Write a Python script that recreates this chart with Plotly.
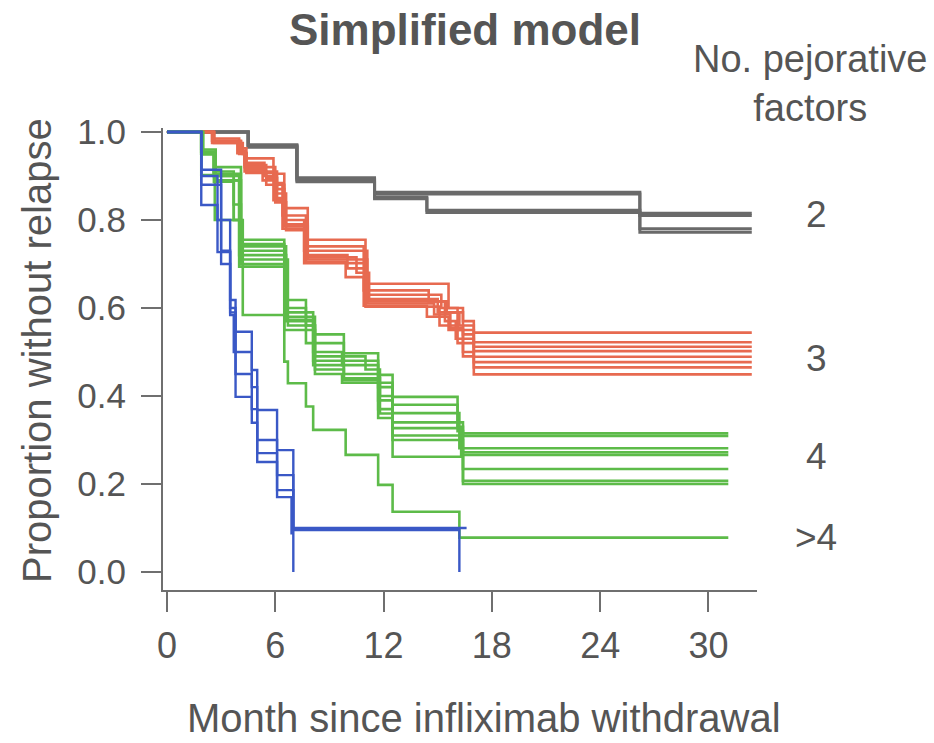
import plotly.graph_objects as go

# ---------------- data ----------------
END_LONG = 32.4    # end of follow-up for gray/red curves (months)
END_GREEN = 31.1   # end of follow-up for green curves

# 2 pejorative factors (gray)
gray_times = [
    [0, 4.5, 7.2, 11.5, 26.2, END_LONG],
    [0, 4.5, 7.2, 11.5, 26.2, END_LONG],
    [0, 4.5, 7.2, 11.5, 14.4, 26.2, END_LONG],
    [0, 4.5, 7.2, 11.5, 14.4, 26.2, END_LONG],
]
gray_surv = [
    [1.0, 0.971, 0.896, 0.863, 0.815, 0.815],
    [1.0, 0.967, 0.890, 0.859, 0.810, 0.810],
    [1.0, 0.969, 0.893, 0.852, 0.822, 0.780, 0.780],
    [1.0, 0.965, 0.887, 0.848, 0.817, 0.772, 0.772],
]

# 3 pejorative factors (red)
red_times = [
    [0, 2.6, 4.0, 4.4, 5.9, 6.5, 7.8, 11.0, 15.6, 16.4, 17.0, END_LONG],
    [0, 2.6, 4.1, 4.3, 5.4, 6.0, 6.4, 7.7, 10.9, 14.5, 15.5, 16.2, 17.0, END_LONG],
    [0, 2.5, 4.0, 4.3, 5.5, 6.1, 6.5, 7.6, 11.1, 15.2, 16.1, 17.0, END_LONG],
    [0, 2.6, 3.9, 4.4, 5.3, 6.0, 6.6, 7.7, 10.0, 11.0, 15.0, 16.4, 17.0, END_LONG],
    [0, 2.6, 4.2, 4.3, 6.1, 6.5, 7.8, 10.5, 11.2, 15.4, 16.0, 17.0, END_LONG],
    [0, 2.5, 4.0, 4.4, 5.9, 6.4, 7.7, 9.9, 10.9, 14.4, 15.6, 16.4, 17.0, END_LONG],
    [0, 2.6, 4.1, 4.3, 6.0, 6.6, 7.6, 11.0, 15.1, 16.1, 17.0, END_LONG],
    [0, 2.6, 4.0, 4.4, 5.5, 6.5, 7.8, 11.1, 14.8, 15.7, 16.4, 17.0, END_LONG],
]
red_surv = [
    [1.0, 0.985, 0.963, 0.940, 0.905, 0.827, 0.755, 0.655, 0.600, 0.570, 0.544, 0.544],
    [1.0, 0.980, 0.958, 0.930, 0.900, 0.884, 0.810, 0.740, 0.640, 0.615, 0.590, 0.560, 0.522, 0.522],
    [1.0, 0.980, 0.955, 0.925, 0.895, 0.870, 0.800, 0.730, 0.630, 0.600, 0.550, 0.512, 0.512],
    [1.0, 0.978, 0.952, 0.915, 0.890, 0.860, 0.790, 0.720, 0.690, 0.620, 0.590, 0.540, 0.502, 0.502],
    [1.0, 0.975, 0.950, 0.910, 0.850, 0.785, 0.715, 0.680, 0.615, 0.570, 0.530, 0.489, 0.489],
    [1.0, 0.975, 0.950, 0.907, 0.845, 0.780, 0.705, 0.670, 0.605, 0.580, 0.550, 0.500, 0.477, 0.477],
    [1.0, 0.978, 0.955, 0.920, 0.840, 0.777, 0.702, 0.603, 0.560, 0.520, 0.465, 0.465],
    [1.0, 0.976, 0.952, 0.910, 0.880, 0.790, 0.710, 0.610, 0.585, 0.555, 0.490, 0.449, 0.449],
]

# 4 pejorative factors (green, main bundle) and >4 (green, single curve)
green_times = [
    [0, 1.9, 2.7, 4.1, 6.5, 7.7, 8.2, 9.8, 11.7, 12.5, 16.1, 16.4, END_GREEN],
    [0, 1.9, 2.6, 3.7, 4.1, 6.5, 7.7, 8.2, 9.8, 11.7, 12.5, 16.1, 16.4, END_GREEN],
    [0, 2.0, 2.7, 4.1, 6.6, 8.1, 9.7, 11.7, 12.5, 16.2, END_GREEN],
    [0, 1.9, 2.6, 3.7, 4.1, 6.5, 7.7, 8.2, 11.0, 11.8, 12.5, 16.4, END_GREEN],
    [0, 1.9, 2.7, 4.0, 6.6, 8.1, 9.8, 11.7, 12.5, 16.3, END_GREEN],
    [0, 1.9, 2.6, 3.7, 4.1, 6.7, 8.2, 9.8, 11.8, 12.5, 16.4, END_GREEN],
    [0, 2.0, 2.7, 4.1, 6.5, 7.7, 8.2, 9.7, 11.7, 12.5, 16.4, END_GREEN],
    [0, 1.9, 2.6, 4.0, 6.6, 8.1, 9.8, 11.7, 12.5, 16.4, END_GREEN],
    [0, 1.9, 2.65, 4.2, 6.5, 6.7, 7.7, 8.1, 9.9, 11.7, 12.5, 16.2, END_GREEN],
]
green_surv = [
    [1.0, 0.960, 0.920, 0.755, 0.618, 0.580, 0.540, 0.497, 0.448, 0.398, 0.330, 0.315, 0.315],
    [1.0, 0.955, 0.910, 0.800, 0.745, 0.600, 0.560, 0.520, 0.480, 0.430, 0.380, 0.320, 0.309, 0.309],
    [1.0, 0.950, 0.905, 0.740, 0.590, 0.500, 0.470, 0.420, 0.361, 0.281, 0.281],
    [1.0, 0.950, 0.900, 0.835, 0.730, 0.580, 0.550, 0.490, 0.460, 0.400, 0.340, 0.272, 0.272],
    [1.0, 0.955, 0.890, 0.720, 0.570, 0.480, 0.450, 0.390, 0.327, 0.266, 0.266],
    [1.0, 0.950, 0.887, 0.800, 0.710, 0.560, 0.460, 0.440, 0.360, 0.310, 0.234, 0.234],
    [1.0, 0.950, 0.890, 0.700, 0.550, 0.520, 0.450, 0.430, 0.350, 0.262, 0.207, 0.207],
    [1.0, 0.950, 0.900, 0.694, 0.573, 0.470, 0.436, 0.370, 0.300, 0.200, 0.200],
    [1.0, 0.902, 0.800, 0.584, 0.478, 0.429, 0.376, 0.323, 0.266, 0.198, 0.137, 0.078, 0.078],
]

# >4 pejorative factors (blue)
blue_times = [
    [0, 1.9, 3.0, 3.5, 3.8, 4.7, 5.0, 6.1, 7.0, 16.6],
    [0, 1.9, 2.8, 3.5, 3.7, 4.7, 5.0, 6.1, 7.0, 16.2, 16.2],
    [0, 1.9, 2.8, 3.5, 3.8, 4.7, 5.0, 6.1, 7.0, 7.0],
    [0, 1.9, 3.0, 3.5, 3.8, 4.7, 5.0, 6.1, 6.9, 7.0],
]
blue_surv = [
    [1.0, 0.914, 0.730, 0.618, 0.546, 0.459, 0.368, 0.277, 0.100, 0.100],
    [1.0, 0.900, 0.800, 0.584, 0.500, 0.420, 0.300, 0.220, 0.095, 0.0, 0.0],
    [1.0, 0.834, 0.727, 0.600, 0.398, 0.339, 0.250, 0.186, 0.0, 0.0],
    [1.0, 0.880, 0.700, 0.590, 0.450, 0.370, 0.270, 0.170, 0.088, 0.088],
]

group_labels = ["2", "3", "4", ">4"]
group_label_y = [0.813, 0.485, 0.262, 0.078]
x_ticks = [0, 6, 12, 18, 24, 30]
y_ticks = [0.0, 0.2, 0.4, 0.6, 0.8, 1.0]

# ---------------- styles ----------------
GRAY = "#6a6a6a"
RED = "#e76a50"
GREEN = "#5dbb49"
BLUE = "#3a58c6"
TEXT = "#555555"
AXIS = "#6f6f6f"
FONT = "Liberation Sans, Arial, Helvetica, sans-serif"

fig = go.Figure()

def add_group(times_list, surv_list, color, width=2.6):
    for t, s in zip(times_list, surv_list):
        fig.add_trace(go.Scatter(
            x=t, y=s, mode="lines", line=dict(color=color, width=width, shape="hv"),
            showlegend=False, hoverinfo="skip"))

add_group(gray_times, gray_surv, GRAY, 3.0)
add_group(red_times, red_surv, RED, 2.6)
add_group(green_times, green_surv, GREEN, 2.6)
add_group(blue_times, blue_surv, BLUE, 2.4)

W, H = 934, 743
L, R, T, B = 163, 177, 128, 153

fig.update_layout(
    width=W, height=H,
    margin=dict(l=L, r=R, t=T, b=B, pad=0),
    paper_bgcolor="white", plot_bgcolor="white",
    font=dict(family=FONT, color=TEXT, size=34),
    xaxis=dict(range=[-0.22, 32.69], tickvals=x_ticks, ticktext=[str(v) for v in x_ticks],
               showgrid=False, zeroline=False, showline=True, linecolor=AXIS, linewidth=2,
               ticks="outside", ticklen=20, tickwidth=2, tickcolor=AXIS,
               tickfont=dict(size=36, color=TEXT), ticklabelstandoff=3),
    yaxis=dict(range=[-0.041, 1.009], tickvals=y_ticks, ticktext=[f"{v:.1f}" for v in y_ticks],
               showgrid=False, zeroline=False, showline=True, linecolor=AXIS, linewidth=2,
               ticks="outside", ticklen=20, tickwidth=2, tickcolor=AXIS,
               tickfont=dict(size=35, color=TEXT), ticklabelstandoff=8),
)

annotations = [
    dict(text="<b>Simplified model</b>", xref="paper", yref="paper", x=(465 - L) / (W - L - R),
         y=1 + (T - 30) / (H - T - B), xanchor="center", yanchor="middle", showarrow=False,
         font=dict(size=44, color=TEXT)),
    dict(text="No. pejorative<br>factors", xref="paper", yref="paper", x=(810 - L) / (W - L - R),
         y=1 + (T - 83) / (H - T - B), xanchor="center", yanchor="middle", showarrow=False,
         font=dict(size=38, color=TEXT), align="center"),
    dict(text="Month since infliximab withdrawal", xref="paper", yref="paper",
         x=(484 - L) / (W - L - R), y=-(718 - (H - B)) / (H - T - B),
         xanchor="center", yanchor="middle", showarrow=False, font=dict(size=40, color=TEXT)),
    dict(text="Proportion without relapse", xref="paper", yref="paper",
         x=-(L - 37) / (W - L - R), y=(H - B - 351) / (H - T - B), textangle=-90,
         xanchor="center", yanchor="middle", showarrow=False, font=dict(size=40, color=TEXT)),
]
for lab, yv in zip(group_labels, group_label_y):
    annotations.append(dict(text=lab, xref="paper", yref="y", x=(816 - L) / (W - L - R), y=yv,
                            xanchor="center", yanchor="middle", showarrow=False,
                            font=dict(size=37, color=TEXT)))
fig.update_layout(annotations=annotations)

fig.write_html("out.html")
